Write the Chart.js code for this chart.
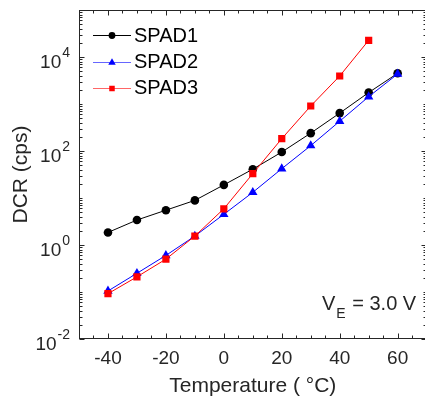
<!DOCTYPE html>
<html><head><meta charset="utf-8">
<script src="https://cdn.jsdelivr.net/npm/chart.js@4/dist/chart.umd.min.js"></script>
<style>
html,body{margin:0;padding:0;background:#fff;overflow:hidden;width:425px;height:400px}
#wrap{width:432px;height:400px;position:relative}
canvas{display:block}
</style>
</head><body><div id="wrap"><canvas id="c" width="432" height="400"></canvas></div>
<script>
// ---- data ----
const temperatures = [-40, -30, -20, -10, 0, 10, 20, 30, 40, 50, 60];
const spad1 = [1.85, 3.4, 5.5, 8.9, 19, 41, 95, 240, 640, 1750, 4500];
const spad2 = [0.105, 0.25, 0.6, 1.55, 4.5, 13.2, 42, 130, 430, 1430, 4350];
const spad3 = [0.092, 0.21, 0.5, 1.55, 5.9, 33, 183, 906, 3940, 22600, null];
const seriesNames = ['SPAD1', 'SPAD2', 'SPAD3'];
const xTickValues = [-40, -20, 0, 20, 40, 60];
const yTickExponents = [-2, 0, 2, 4];
const xTitle = 'Temperature ( °C)';
const yTitle = 'DCR (cps)';
const noteMain = 'V';
const noteSub = 'E';
const noteRest = ' = 3.0 V';

const AX = '#262626';
const FONT = '"Liberation Sans", Arial, sans-serif';

function pts(arr){ return temperatures.map((t,i)=>({x:t,y:arr[i]})).filter(p=>p.y!==null); }

const styles = [
  {color:'#000000', shape:'circle', r:4.3},
  {color:'#0000ff', shape:'triangle', r:5.4},
  {color:'#ff0000', shape:'rect', r:5.1}
];

function drawMarker(ctx, shape, x, y, size, color){
  ctx.save();
  ctx.fillStyle = color; ctx.strokeStyle = color; ctx.lineWidth = 1;
  ctx.beginPath();
  if (shape==='circle'){ ctx.arc(x,y,size,0,Math.PI*2); }
  else if (shape==='triangle'){ ctx.moveTo(x, y-size); ctx.lineTo(x+size*0.866, y+size*0.5); ctx.lineTo(x-size*0.866, y+size*0.5); ctx.closePath(); }
  else { ctx.rect(x-size/2, y-size/2, size, size); }
  ctx.fill();
  ctx.restore();
}

const decor = {
  id:'decor',
  beforeDatasetsDraw(chart){
    const {ctx, chartArea:a, scales:{x, y}} = chart;
    ctx.save();
    ctx.strokeStyle = AX; ctx.lineWidth = 1;
    const L = Math.round(a.left)+0.5, R = Math.round(a.right)-0.5, T = Math.round(a.top)+0.5, B = Math.round(a.bottom)-0.5;
    ctx.strokeRect(L, T, R-L, B-T);
    ctx.beginPath();
    for (let v=-50; v<=70; v+=5){
      const px = Math.round(x.getPixelForValue(v))+0.5;
      const len = xTickValues.includes(v) ? 5 : 3;
      ctx.moveTo(px, B); ctx.lineTo(px, B-len);
      ctx.moveTo(px, T); ctx.lineTo(px, T+len);
    }
    for (let d=-2; d<=4; d++){
      for (let m=1; m<=9; m++){
        const v = m*Math.pow(10,d);
        const py = Math.round(y.getPixelForValue(v))+0.5;
        const major = (m===1 && yTickExponents.includes(d));
        const len = major ? 5 : 3;
        ctx.moveTo(L, py); ctx.lineTo(L+len, py);
        ctx.moveTo(R, py); ctx.lineTo(R-len, py);
      }
    }
    ctx.stroke();
    ctx.restore();
  },
  afterDraw(chart){
    const {ctx, chartArea:a, scales:{x, y}} = chart;
    ctx.save();
    ctx.fillStyle = AX;
    const rightEdge = a.left - 9;
    yTickExponents.forEach(e=>{
      const py = y.getPixelForValue(Math.pow(10,e));
      const expStr = String(e);
      ctx.font = '14px '+FONT;
      const ew = ctx.measureText(expStr).width;
      ctx.font = '19px '+FONT;
      const bw = ctx.measureText('10').width;
      ctx.textBaseline = 'alphabetic'; ctx.textAlign = 'left';
      ctx.fillText('10', rightEdge-ew-bw-1, py+10.5);
      ctx.font = '14px '+FONT;
      ctx.fillText(expStr, rightEdge-ew, py-0.5);
    });
    ctx.font = '21px '+FONT;
    ctx.textAlign = 'center'; ctx.textBaseline = 'alphabetic';
    ctx.fillText(xTitle, (a.left+a.right)/2, 392);
    ctx.save();
    ctx.translate(27, (a.top+a.bottom)/2);
    ctx.rotate(-Math.PI/2);
    ctx.fillText(yTitle, 0, 0);
    ctx.restore();
    ctx.textAlign = 'left';
    ctx.font = '20px '+FONT;
    const nx = 322;
    ctx.fillText(noteMain, nx, 310);
    const vw = ctx.measureText(noteMain).width;
    ctx.font = '14px '+FONT;
    ctx.fillText(noteSub, nx+vw+1, 318);
    const sw = ctx.measureText(noteSub).width;
    ctx.font = '20px '+FONT;
    ctx.fillText(noteRest, nx+vw+sw+2, 310);
    const rows = [35, 61.5, 87.5];
    seriesNames.forEach((name,i)=>{
      const yy = rows[i];
      ctx.strokeStyle = styles[i].color; ctx.lineWidth = 1;
      ctx.globalAlpha = i===0 ? 1 : 0.6;
      ctx.beginPath(); ctx.moveTo(93, Math.round(yy)+0.5); ctx.lineTo(131, Math.round(yy)+0.5); ctx.stroke();
      ctx.globalAlpha = 1;
      const ms = styles[i].shape==='circle'?3.4: styles[i].shape==='triangle'?4.3:5.5;
      drawMarker(ctx, styles[i].shape, 112, Math.round(yy)+0.5, ms, styles[i].color);
      ctx.fillStyle = '#000';
      ctx.font = '20px '+FONT; ctx.textBaseline='middle'; ctx.textAlign='left';
      ctx.fillText(name, 134, yy+1);
    });
    ctx.restore();
  }
};

const datasets = [spad1, spad2, spad3].map((arr,i)=>({
  label: seriesNames[i],
  data: pts(arr),
  borderColor: styles[i].color,
  backgroundColor: styles[i].color,
  borderWidth: 1,
  pointStyle: styles[i].shape,
  pointRadius: styles[i].r,
  pointBorderWidth: 0,
  pointBackgroundColor: styles[i].color,
  tension: 0,
  order: 2-i
}));

new Chart(document.getElementById('c'), {
  type:'line',
  data:{datasets},
  options:{
    responsive:false, animation:false, devicePixelRatio:1,
    layout:{padding:{top:10,left:0,right:4,bottom:0}},
    plugins:{legend:{display:false}, tooltip:{enabled:false}},
    scales:{
      x:{type:'linear', min:-50, max:70,
        afterBuildTicks(s){ s.ticks = xTickValues.map(v=>({value:v})); },
        afterFit(s){ s.height = 61; },
        grid:{display:false, drawTicks:false}, border:{display:false},
        ticks:{font:{size:19, family:FONT}, color:AX, padding:8, maxRotation:0, autoSkip:false}
      },
      y:{type:'logarithmic', min:0.01, max:1e5,
        afterFit(s){ s.width = 79; },
        grid:{display:false, drawTicks:false}, border:{display:false},
        ticks:{display:false}
      }
    }
  },
  plugins:[decor]
});
</script>
</body></html>
